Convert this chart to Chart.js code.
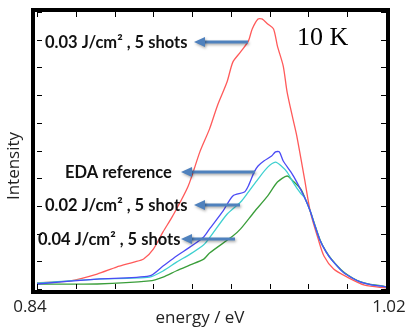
<!DOCTYPE html>
<html>
<head>
<meta charset="utf-8">
<script src="https://cdn.jsdelivr.net/npm/chart.js@4.4.1/dist/chart.umd.min.js"></script>
<style>
  html, body { margin: 0; padding: 0; background: #fff; }
  canvas { display: block; }
</style>
</head>
<body>
<canvas id="chartPL" width="406" height="330"></canvas>
<script>
// tick positions (no labels except the two ends)
const xTicks = [0.84, 0.86, 0.88, 0.90, 0.92, 0.94, 0.96, 0.98, 1.00, 1.02];
const yTicks = [0, 1, 2, 3, 4, 5, 6, 7, 8, 9, 10];
const xTickLabels = ['0.84', '1.02'];

// 0.03 J/cm2, 5 shots (red)
const redEnergy = [0.840, 0.857, 0.871, 0.881, 0.890, 0.895, 0.900, 0.905, 0.910, 0.918, 0.924, 0.929, 0.933, 0.938, 0.941, 0.945, 0.949, 0.951, 0.954, 0.956, 0.959, 0.962, 0.964, 0.967, 0.969, 0.972, 0.974, 0.978, 0.981, 0.985, 0.988, 0.993, 1.000, 1.009, 1.020];
const redIntensity = [0.22, 0.29, 0.54, 0.79, 0.97, 1.08, 1.44, 2.06, 2.64, 3.72, 4.95, 5.78, 6.61, 7.47, 8.19, 8.56, 8.95, 9.39, 9.75, 9.75, 9.57, 9.39, 8.77, 8.05, 7.11, 6.14, 5.52, 3.97, 2.78, 1.81, 1.19, 0.72, 0.43, 0.14, 0.04];

// EDA reference (blue)
const blueEnergy = [0.840, 0.871, 0.898, 0.905, 0.912, 0.919, 0.926, 0.929, 0.936, 0.941, 0.947, 0.949, 0.952, 0.954, 0.957, 0.961, 0.963, 0.965, 0.967, 0.971, 0.974, 0.978, 0.981, 0.983, 0.986, 0.989, 0.992, 0.998, 1.003, 1.007, 1.012, 1.017, 1.020];
const blueIntensity = [0.18, 0.36, 0.47, 0.83, 1.19, 1.52, 1.88, 2.17, 2.82, 3.36, 3.50, 3.72, 4.22, 4.44, 4.62, 4.80, 4.95, 4.95, 4.62, 4.22, 3.86, 3.30, 2.80, 2.35, 1.75, 1.35, 1.05, 0.60, 0.38, 0.25, 0.16, 0.11, 0.08];

// 0.02 J/cm2, 5 shots (cyan)
const cyanEnergy = [0.840, 0.871, 0.898, 0.905, 0.912, 0.919, 0.926, 0.929, 0.938, 0.945, 0.949, 0.954, 0.959, 0.963, 0.966, 0.969, 0.972, 0.976, 0.978, 0.981, 0.983, 0.986, 0.989, 0.992, 0.998, 1.003, 1.007, 1.012, 1.017, 1.020];
const cyanIntensity = [0.22, 0.36, 0.43, 0.65, 0.97, 1.26, 1.60, 1.85, 2.70, 3.14, 3.50, 3.97, 4.40, 4.58, 4.44, 4.22, 3.86, 3.45, 3.30, 2.80, 2.35, 1.75, 1.35, 1.05, 0.60, 0.38, 0.25, 0.16, 0.11, 0.08];

// 0.04 J/cm2, 5 shots (green)
const greenEnergy = [0.840, 0.871, 0.898, 0.905, 0.912, 0.919, 0.926, 0.929, 0.941, 0.945, 0.952, 0.959, 0.964, 0.969, 0.972, 0.976, 0.978, 0.981, 0.983, 0.986, 0.989, 0.992, 0.998, 1.003, 1.007, 1.012, 1.017, 1.020];
const greenIntensity = [0.18, 0.18, 0.29, 0.43, 0.66, 0.87, 1.08, 1.30, 1.91, 2.17, 2.78, 3.36, 3.86, 4.08, 3.90, 3.61, 3.32, 2.80, 2.38, 1.77, 1.37, 1.07, 0.62, 0.39, 0.26, 0.17, 0.12, 0.08];

const toPoints = (xs, ys) => xs.map((x, i) => ({ x: x, y: ys[i] }));

// annotation texts with arrows: text, text left x, arrow tail x, arrow tip x, y (pixels)
const notes = [
    { text: '0.03 J/cm\u00B2 , 5 shots', tx: 45, tail: 248, tip: 194, y: 42 },
    { text: 'EDA reference', tx: 65, tail: 255, tip: 181, y: 172 },
    { text: '0.02 J/cm\u00B2 , 5 shots', tx: 45, tail: 240, tip: 194, y: 205 },
    { text: '0.04 J/cm\u00B2 , 5 shots', tx: 38, tail: 235, tip: 181, y: 239 }
];

const framePlugin = {
    id: 'frame',
    afterDatasetsDraw(chart) {
        const ctx = chart.ctx;
        const a = chart.chartArea;
        const xs = chart.scales.x;
        const ys = chart.scales.y;
        ctx.save();

        // inward ticks on all four sides
        ctx.strokeStyle = '#000';
        ctx.lineWidth = 1;
        ctx.beginPath();
        xTicks.forEach(v => {
            const px = Math.round(xs.getPixelForValue(v)) + 0.5;
            ctx.moveTo(px, a.bottom); ctx.lineTo(px, a.bottom - 5);
            ctx.moveTo(px, a.top); ctx.lineTo(px, a.top + 5);
        });
        yTicks.forEach(v => {
            const py = Math.round(ys.getPixelForValue(v)) + 0.5;
            ctx.moveTo(a.left, py); ctx.lineTo(a.left + 5, py);
            ctx.moveTo(a.right, py); ctx.lineTo(a.right - 5, py);
        });
        ctx.stroke();

        // heavy frame
        ctx.lineWidth = 4;
        ctx.strokeRect(a.left - 4, a.top - 2, a.right - a.left + 6, a.bottom - a.top + 5);

        // end tick labels
        ctx.fillStyle = '#222';
        ctx.font = '17px "Open Sans"';
        ctx.textAlign = 'center';
        ctx.textBaseline = 'middle';
        ctx.fillText(xTickLabels[0], xs.getPixelForValue(0.84) - 7, 307);
        ctx.fillText(xTickLabels[1], xs.getPixelForValue(1.02) + 3, 307);

        // axis titles
        ctx.font = '17px "Open Sans"';
        ctx.fillText('energy / eV', 200, 318);
        ctx.save();
        ctx.translate(14, 166);
        ctx.rotate(-Math.PI / 2);
        ctx.fillText('Intensity', 0, 0);
        ctx.restore();

        // temperature
        ctx.fillStyle = '#000';
        ctx.font = '26px "Liberation Serif"';
        ctx.textAlign = 'left';
        ctx.fillText('10 K', 297, 38);

        // arrows
        notes.forEach(n => {
            ctx.save();
            ctx.shadowColor = 'rgba(0,0,0,0.35)';
            ctx.shadowBlur = 3;
            ctx.shadowOffsetX = 1;
            ctx.shadowOffsetY = 1.5;
            ctx.strokeStyle = '#4f81bd';
            ctx.fillStyle = '#4f81bd';
            ctx.lineWidth = 3;
            ctx.beginPath();
            ctx.moveTo(n.tail, n.y);
            ctx.lineTo(n.tip + 9, n.y);
            ctx.stroke();
            ctx.beginPath();
            ctx.moveTo(n.tip, n.y);
            ctx.lineTo(n.tip + 11, n.y - 5);
            ctx.lineTo(n.tip + 11, n.y + 5);
            ctx.closePath();
            ctx.fill();
            ctx.restore();
        });

        // annotation texts
        ctx.fillStyle = '#111';
        ctx.font = 'bold 16.5px Lato';
        ctx.textAlign = 'left';
        notes.forEach(n => {
            ctx.fillText(n.text, n.tx, n.y + 1);
        });

        ctx.restore();
    }
};

const lineStyle = (color) => ({
    borderColor: color,
    borderWidth: 1.3,
    pointRadius: 0,
    fill: false,
    tension: 0.25
});

const config = {
    type: 'line',
    data: {
        datasets: [
            Object.assign({ label: 'EDA reference', data: toPoints(blueEnergy, blueIntensity) }, lineStyle('#4b4bf5')),
            Object.assign({ label: '0.02 J/cm2, 5 shots', data: toPoints(cyanEnergy, cyanIntensity) }, lineStyle('#3fd0d0')),
            Object.assign({ label: '0.04 J/cm2, 5 shots', data: toPoints(greenEnergy, greenIntensity) }, lineStyle('#3a9e3a')),
            Object.assign({ label: '0.03 J/cm2, 5 shots', data: toPoints(redEnergy, redIntensity) }, lineStyle('#ff5a5a'))
        ]
    },
    options: {
        responsive: false,
        animation: false,
        devicePixelRatio: 1,
        layout: { padding: { left: 37, top: 12, right: 20, bottom: 41 } },
        plugins: {
            legend: { display: false },
            tooltip: { enabled: false }
        },
        scales: {
            x: { type: 'linear', display: false, min: 0.84, max: 1.02 },
            y: { display: false, min: 0, max: 10 }
        }
    },
    plugins: [framePlugin]
};

new Chart(document.getElementById('chartPL'), config);
</script>
</body>
</html>
